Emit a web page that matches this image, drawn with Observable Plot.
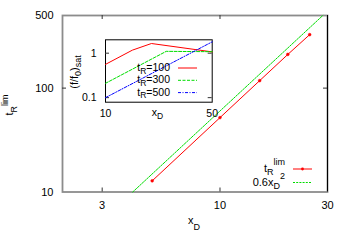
<!DOCTYPE html>
<html><head><meta charset="utf-8">
<script src="https://cdn.jsdelivr.net/npm/d3@7"></script>
<script src="https://cdn.jsdelivr.net/npm/@observablehq/plot@0.6"></script>
<style>
body{margin:0;background:#fff}
#c{position:relative;width:350px;height:245px}
#c svg{position:absolute;left:0;top:0}
</style>
</head><body><div id="c"></div><script>
// main chart data
const xD = [5, 10, 15, 20, 25];
const tRlim = [12.8, 52, 118, 211, 327];
const fitX = [4.1, 28.6];          // 0.6 x_D^2 line, read at frame edges
const fitY = [10, 500];
const mainXTicks = [3, 10, 30];
const mainYTicks = [10, 100, 500];
// inset data
const insXred = [10, 15, 20, 50];
const insYred = [0.56, 1.17, 1.65, 1.07];
const insXgreen = [10, 25, 50];
const insYgreen = [0.21, 1.1, 1.08];
const insXblue = [10, 50];
const insYblue = [0.1, 1.8];
const insXTicks = [10, 50];
const insYTicks = [0.1, 1];
const legendMain = ["t_R^lim", "0.6x_D^2"];
const legendInset = ["100", "300", "500"];

const FONT = "'Liberation Sans', Arial, Helvetica, sans-serif";
const RED = "#ff0000", GREEN = "#00dd00", BLUE = "#0000ff";

const redData = xD.map((x, i) => ({x, y: tRlim[i]}));
const fitData = fitX.map((x, i) => ({x, y: fitY[i]}));
const insRed = insXred.map((x, i) => ({x, y: insYred[i]}));
const insGreen = insXgreen.map((x, i) => ({x, y: insYgreen[i]}));
const insBlue = insXblue.map((x, i) => ({x, y: insYblue[i]}));

const mL = 62, mR = 23, mT = 15, mB = 53.5;
const fw = 350 - mL - mR, fh = 245 - mT - mB;

const main = Plot.plot({
  width: 350, height: 245,
  marginLeft: mL, marginRight: mR, marginTop: mT, marginBottom: mB,
  style: {fontFamily: FONT, fontSize: "11px", background: "white", color: "black", overflow: "visible"},
  x: {type: "log", domain: [2, 30]},
  y: {type: "log", domain: [10, 500]},
  marks: [
    Plot.frame({stroke: "#8c8c8c", strokeWidth: 1.8}),
    Plot.ruleX([mainXTicks[2]], {stroke: "black", strokeWidth: 1}),
    Plot.tickX(mainXTicks.slice(0, 2), {x: d => d, insetTop: fh - 4, stroke: "#333"}),
    Plot.tickX(mainXTicks.slice(0, 2), {x: d => d, insetBottom: fh - 4, stroke: "#333"}),
    Plot.tickY([mainYTicks[1]], {y: d => d, insetRight: fw - 4, stroke: "#333"}),
    Plot.tickY([mainYTicks[1]], {y: d => d, insetLeft: fw - 4, stroke: "#333"}),
    Plot.line(fitData, {x: "x", y: "y", stroke: GREEN, strokeWidth: 1, strokeDasharray: "2,1.2"}),
    Plot.line(redData, {x: "x", y: "y", stroke: RED, strokeWidth: 1}),
    Plot.dot(redData, {x: "x", y: "y", r: 1.4, fill: RED, stroke: RED, strokeWidth: 0.5}),
    Plot.axisX({ticks: mainXTicks, tickSize: 0, tickPadding: 9, tickFormat: d => String(d), label: null}),
    Plot.axisY({ticks: mainYTicks, tickSize: 0, tickPadding: 9, tickFormat: d => String(d), label: null})
  ]
});

const iL = 105, iR = 350 - 211.7, iT = 39.3, iB = 245 - 101.7;
const ifw = 350 - iL - iR;
const inset = Plot.plot({
  width: 350, height: 245,
  marginLeft: iL, marginRight: iR, marginTop: iT, marginBottom: iB,
  style: {fontFamily: FONT, fontSize: "10.5px", background: "transparent", color: "black", overflow: "visible"},
  x: {type: "log", domain: [10, 50]},
  y: {type: "log", domain: [0.079, 2.0]},
  marks: [
    Plot.frame({fill: "white", stroke: "black", strokeWidth: 1}),
    Plot.tickY(insYTicks, {y: d => d, insetRight: ifw - 4, stroke: "#333"}),
    Plot.tickY(insYTicks, {y: d => d, insetLeft: ifw - 4, stroke: "#333"}),
    Plot.line(insRed, {x: "x", y: "y", stroke: RED, strokeWidth: 1}),
    Plot.line(insGreen, {x: "x", y: "y", stroke: GREEN, strokeWidth: 1, strokeDasharray: "3,1.5"}),
    Plot.line(insBlue, {x: "x", y: "y", stroke: BLUE, strokeWidth: 1, strokeDasharray: "3,1.5,1,1.5"}),
    Plot.axisX({ticks: insXTicks, tickSize: 0, tickPadding: 7, tickFormat: d => String(d), label: null}),
    Plot.axisY({ticks: insYTicks, tickSize: 0, tickPadding: 9, tickFormat: d => String(d), label: null})
  ]
});

const c = document.getElementById("c");
c.appendChild(main);
c.appendChild(inset);

function rich(svg, {x, y, anchor = "start", rotate = 0, size = 11, parts}) {
  const t = d3.select(svg).append("text")
    .attr("transform", `translate(${x},${y})` + (rotate ? ` rotate(${rotate})` : ""))
    .attr("text-anchor", anchor).attr("font-family", FONT)
    .attr("font-size", size).attr("fill", "black");
  for (const p of parts) t.append("tspan").attr("dy", p.dy || 0).attr("font-size", p.size || size).text(p.t);
}
function sample(svg, x1, x2, y, stroke, dash, dot) {
  const g = d3.select(svg);
  g.append("line").attr("x1", x1).attr("x2", x2).attr("y1", y).attr("y2", y)
    .attr("stroke", stroke).attr("stroke-width", 1).attr("stroke-dasharray", dash || null);
  if (dot) g.append("circle").attr("cx", (x1 + x2) / 2).attr("cy", y).attr("r", 1.4).attr("fill", stroke);
}

// main axis labels
rich(inset, {x: 13, y: 105, rotate: -90, anchor: "middle", parts: [
  {t: "t"}, {t: "R", size: 9, dy: 3.5}, {t: "lim", size: 9, dy: -9}]});
rich(inset, {x: 194, y: 224, anchor: "middle", parts: [
  {t: "x"}, {t: "D", size: 9, dy: 5.5}]});
// main legend
rich(inset, {x: 285, y: 172, anchor: "end", parts: [
  {t: "t"}, {t: "R", size: 9, dy: 2.5}, {t: "lim", size: 9, dy: -9.5}]});
rich(inset, {x: 285, y: 185.5, anchor: "end", parts: [
  {t: "0.6x"}, {t: "D", size: 9, dy: 3}, {t: "2", size: 9, dy: -9.5}]});
sample(inset, 293, 312, 169, RED, null, true);
sample(inset, 293, 312, 182.5, GREEN, "2,1.2", false);
// inset labels
rich(inset, {x: 78, y: 72, rotate: -90, anchor: "middle", parts: [
  {t: "(f/f"}, {t: "0", size: 9, dy: 2.5}, {t: ")", dy: -2.5}, {t: "sat", size: 9, dy: 2.5}]});
rich(inset, {x: 157.5, y: 116, anchor: "middle", size: 10.5, parts: [
  {t: "x"}, {t: "D", size: 8.5, dy: 3}]});
const insCols = [RED, GREEN, BLUE];
const insDash = [null, "3,1.5", "3,1.5,1,1.5"];
legendInset.forEach((v, i) => {
  const yb = 71 + i * 12.3;
  rich(inset, {x: 170, y: yb, anchor: "end", size: 10.5, parts: [
    {t: "t"}, {t: "R", size: 8.5, dy: 2.5}, {t: "=" + v, dy: -2.5}]});
  sample(inset, 178, 197, yb - 3, insCols[i], insDash[i], false);
});
</script></body></html>
